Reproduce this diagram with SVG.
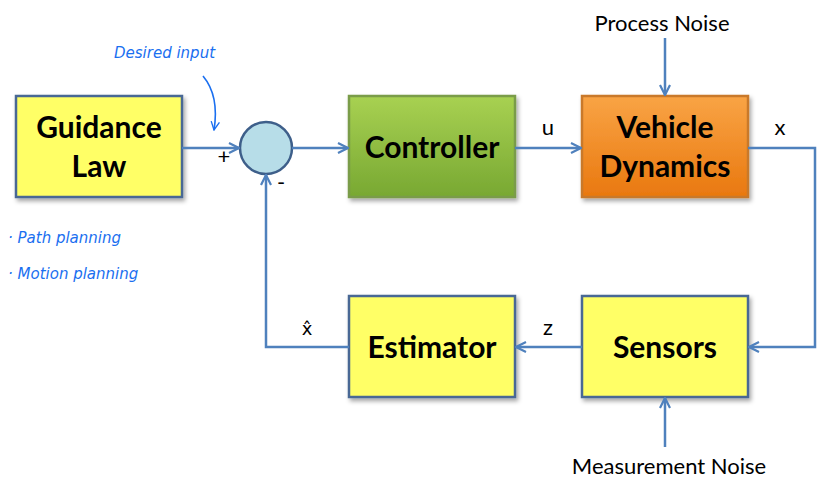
<svg xmlns="http://www.w3.org/2000/svg" width="838" height="480" viewBox="0 0 838 480">
<defs>
<linearGradient id="gGreen" x1="0" y1="0" x2="0" y2="1"><stop offset="0" stop-color="#a8d152"/><stop offset="1" stop-color="#78a832"/></linearGradient>
<linearGradient id="gOrange" x1="0" y1="0" x2="0" y2="1"><stop offset="0" stop-color="#f9a445"/><stop offset="1" stop-color="#e9780f"/></linearGradient>
<filter id="sh" x="-10%" y="-10%" width="130%" height="130%"><feDropShadow dx="2" dy="3" stdDeviation="2" flood-color="#000" flood-opacity="0.35"/></filter>
<marker id="ar" viewBox="0 0 12 12" refX="11" refY="6" markerWidth="12" markerHeight="12" markerUnits="userSpaceOnUse" orient="auto"><path d="M1,1 L11,6 L1,11" fill="none" stroke="#4f81bd" stroke-width="2.2"/></marker>
<marker id="arh" viewBox="0 0 12 12" refX="11" refY="6" markerWidth="10" markerHeight="10" markerUnits="userSpaceOnUse" orient="auto"><path d="M1,1 L11,6 L1,11" fill="none" stroke="#1a6ff0" stroke-width="1.6"/></marker>
</defs>
<style>
.box{stroke:#4a6894;stroke-width:2.5;filter:url(#sh)}
.yel{fill:#ffff66}
.t{font-family:Lato,"Open Sans",sans-serif;font-weight:bold;font-size:30px;fill:#000;text-anchor:middle}
.l{font-family:Lato,"Open Sans",sans-serif;font-size:22px;fill:#000;text-anchor:middle}
.c{fill:none;stroke:#4f81bd;stroke-width:2.5}
.h{font-family:"DejaVu Sans",sans-serif;font-style:italic;fill:#1a6ff0;font-size:15px}
</style>
<g id="guidance"><rect class="box yel" x="16" y="96" width="166" height="101"/><text class="t" x="99" y="138">Guidance</text><text class="t" x="99" y="177">Law</text></g>
<g id="sum"><circle cx="266" cy="148" r="26" fill="#b7dde8" stroke="#3e5f8a" stroke-width="2.5"/></g>
<g id="controller"><rect class="box" fill="url(#gGreen)" x="349" y="96" width="166" height="101" style="stroke:#7a9c48"/><text class="t" x="432" y="158">Controller</text></g>
<g id="vehicle"><rect class="box" fill="url(#gOrange)" x="582" y="96" width="166" height="101" style="stroke:#c9792a"/><text class="t" x="665" y="138">Vehicle</text><text class="t" x="665" y="177">Dynamics</text></g>
<g id="estimator"><rect class="box yel" x="349" y="296" width="166" height="101"/><text class="t" x="432" y="358">Estimator</text></g>
<g id="sensors"><rect class="box yel" x="582" y="296" width="166" height="101"/><text class="t" x="665" y="358">Sensors</text></g>
<g id="connectors">
<path class="c" d="M182,148 H239" marker-end="url(#ar)"/>
<path class="c" d="M292,148 H348" marker-end="url(#ar)"/>
<path class="c" d="M515,148 H581" marker-end="url(#ar)"/>
<path class="c" d="M665,38 V95" marker-end="url(#ar)"/>
<path class="c" d="M748,148 H815 V347 H749" marker-end="url(#ar)"/>
<path class="c" d="M582,347 H516" marker-end="url(#ar)"/>
<path class="c" d="M349,347 H266 V175" marker-end="url(#ar)"/>
<path class="c" d="M665,447 V398" marker-end="url(#ar)"/>
</g>
<g id="labels">
<text class="l" x="662" y="31">Process Noise</text>
<text class="l" x="669" y="474">Measurement Noise</text>
<text class="l" x="548" y="135" font-size="19">u</text>
<text class="l" x="780" y="135" font-size="19">x</text>
<text class="l" x="548" y="335" font-size="19">z</text>
<text class="l" x="307" y="335" font-size="19" style="font-family:'DejaVu Sans',sans-serif;font-size:18px">x̂</text>
<text class="l" x="224" y="164" font-size="19">+</text>
<text class="l" x="281" y="190" font-size="19">-</text>
</g>
<g id="annotations">
<text class="h" x="114" y="58" font-size="16">Desired input</text>
<path d="M203,76 C213,88 218,105 214,130" fill="none" stroke="#1a6ff0" stroke-width="1.6" marker-end="url(#arh)"/>
<text class="h" x="8" y="243">· Path planning</text>
<text class="h" x="8" y="279">· Motion planning</text>
</g>
</svg>
